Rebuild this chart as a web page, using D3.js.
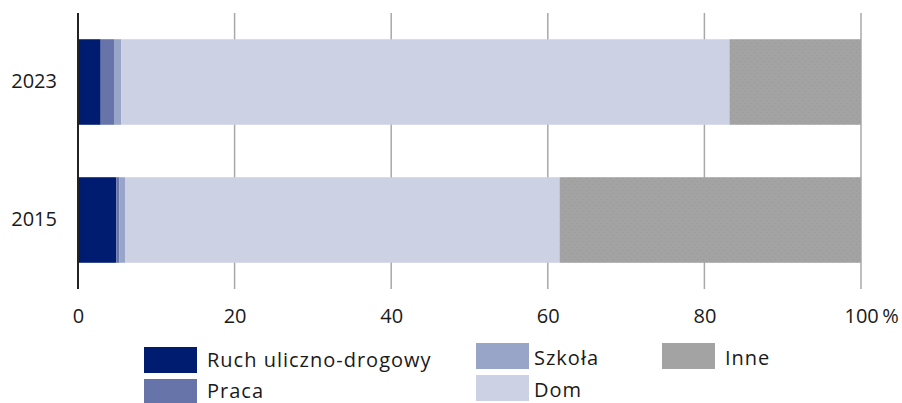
<!DOCTYPE html>
<html>
<head>
<meta charset="utf-8">
<script src="https://cdn.jsdelivr.net/npm/d3@7"></script>
<style>
  html, body { margin: 0; padding: 0; background: #fff; }
  svg text { font-family: "Open Sans", "Noto Sans", sans-serif; fill: #1a1a1a; }
</style>
</head>
<body>
<svg id="chart" width="902" height="403"></svg>
<script>
const years = ["2023", "2015"];
const seriesNames = ["Ruch uliczno-drogowy", "Praca", "Szkoła", "Dom", "Inne"];
const ruch   = [2.9, 4.9];
const praca  = [1.7, 0.4];
const szkola = [0.9, 0.7];
const dom    = [77.7, 55.5];
const inne   = [16.8, 38.5];
const xTicks = [0, 20, 40, 60, 80, 100];
const colors = ["#001c71", "#6674aa", "#98a5c8", "#ccd2e4", "#a3a3a3"];

const svg = d3.select("#chart");
const margin = { left: 78, right: 41, top: 13, bottom: 114 };
const W = 902, H = 403;

const x = d3.scaleLinear().domain([0, 100]).range([margin.left, W - margin.right]);
const y = d3.scaleBand().domain(years).range([margin.top, H - margin.bottom])
  .paddingInner(0.38).paddingOuter(0.19);

// subtle stipple texture for "Inne"
const defs = svg.append("defs");
const pat = defs.append("pattern").attr("id", "dots").attr("patternUnits", "userSpaceOnUse")
  .attr("width", 6).attr("height", 6);
pat.append("rect").attr("width", 6).attr("height", 6).attr("fill", colors[4]);
pat.append("circle").attr("cx", 1.5).attr("cy", 1.5).attr("r", 0.7).attr("fill", "#9b9b9b");
pat.append("circle").attr("cx", 4.5).attr("cy", 4.5).attr("r", 0.7).attr("fill", "#9b9b9b");

// gridlines
const gridTop = margin.top, gridBottom = H - margin.bottom;
svg.append("g").selectAll("line").data(xTicks.filter(d => d !== 0)).join("line")
  .attr("x1", d => x(d)).attr("x2", d => x(d))
  .attr("y1", gridTop).attr("y2", gridBottom)
  .attr("stroke", "#a8a8a8").attr("stroke-width", 1.5);

// stacked bars
const rows = years.map((yr, i) => ({
  year: yr,
  "Ruch uliczno-drogowy": ruch[i], "Praca": praca[i], "Szkoła": szkola[i], "Dom": dom[i], "Inne": inne[i]
}));
const stack = d3.stack().keys(seriesNames)(rows);
const color = d3.scaleOrdinal().domain(seriesNames).range(colors);

svg.append("g").selectAll("g").data(stack).join("g")
  .attr("fill", d => d.key === "Inne" ? "url(#dots)" : color(d.key))
  .selectAll("rect").data(d => d).join("rect")
  .attr("x", d => x(d[0]))
  .attr("width", d => x(d[1]) - x(d[0]))
  .attr("y", d => y(d.data.year))
  .attr("height", y.bandwidth());

// zero line
svg.append("line").attr("x1", x(0)).attr("x2", x(0)).attr("y1", gridTop).attr("y2", gridBottom)
  .attr("stroke", "#222").attr("stroke-width", 2);

// x axis labels
const xAxis = d3.axisBottom(x).tickValues(xTicks).tickSize(0).tickPadding(0)
  .tickFormat(d => d === 100 ? "100\u2009%" : d);
const gx = svg.append("g").attr("transform", `translate(0,${gridBottom + 19.5})`).call(xAxis);
gx.select(".domain").remove();
gx.selectAll("text").attr("font-size", 20).attr("fill", "#1a1a1a").attr("dy", "0.71em")
  .attr("font-family", "'Open Sans', sans-serif")
  .attr("text-anchor", d => d === 100 ? "start" : "middle")
  .attr("dx", d => d === 100 ? -17 : 0);

// y axis labels
const yAxis = d3.axisLeft(y).tickSize(0).tickPadding(21);
const gy = svg.append("g").attr("transform", `translate(${x(0)},0)`).call(yAxis);
gy.select(".domain").remove();
gy.selectAll("text").attr("font-size", 20).attr("fill", "#1a1a1a")
  .attr("font-family", "'Open Sans', sans-serif");

// legend
const legendPos = [
  { sx: 144, sy: 347, tx: 63, ty: 20 }, { sx: 144, sy: 379, tx: 63, ty: 19 },
  { sx: 476, sy: 343, tx: 58, ty: 21.5 }, { sx: 476, sy: 375, tx: 58, ty: 21.5 },
  { sx: 662, sy: 343, tx: 63, ty: 21.5 }
];
const lg = svg.append("g").selectAll("g").data(seriesNames).join("g")
  .attr("transform", (d, i) => `translate(${legendPos[i].sx},${legendPos[i].sy})`);
lg.append("rect").attr("width", 53).attr("height", 26).attr("fill", d => color(d));
lg.append("text").attr("x", (d, i) => legendPos[i].tx).attr("y", (d, i) => legendPos[i].ty)
  .attr("font-size", 20).attr("letter-spacing", 1).text(d => d);
</script>
</body>
</html>
